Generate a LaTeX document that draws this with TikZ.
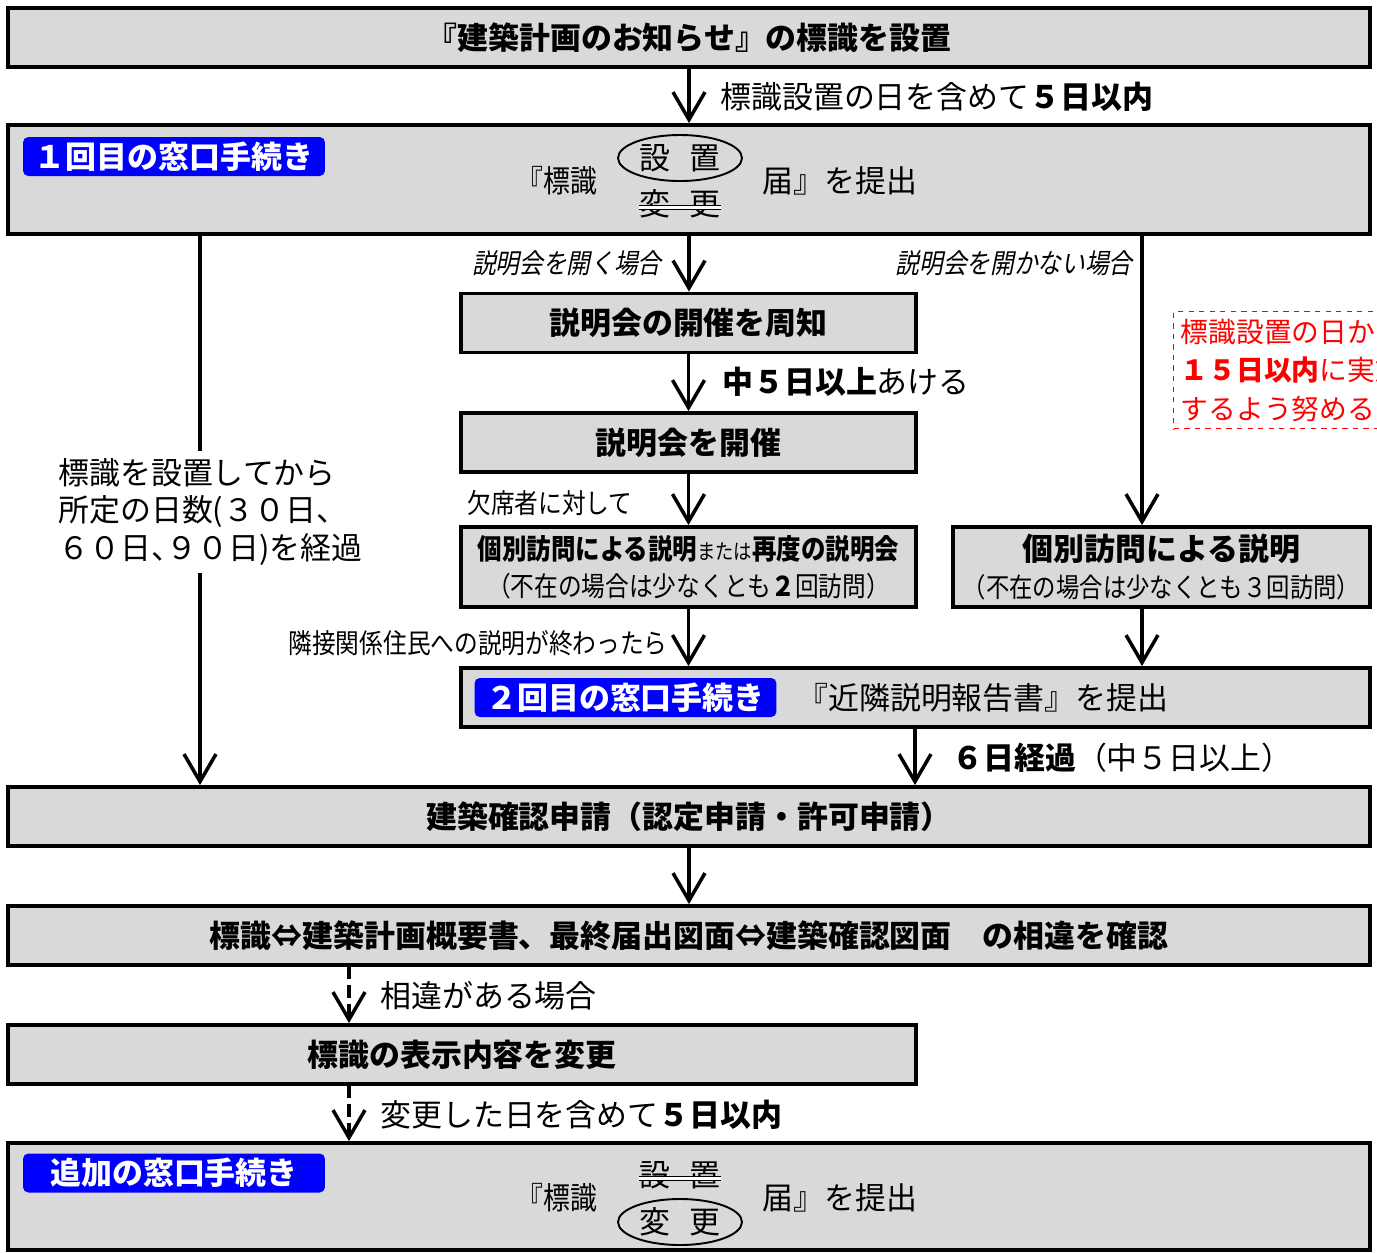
\documentclass[tikz,border=0pt]{standalone}
\usepackage{fontspec}
\setmainfont{Noto Sans CJK JP}
\newfontfamily\jpnarrow[FakeStretch=0.87]{Noto Sans CJK JP}
\newfontfamily\jpslant[FakeSlant=0.2, FakeStretch=0.87]{Noto Sans CJK JP}
\usetikzlibrary{positioning, arrows.meta, shapes.geometric}
\definecolor{boxgray}{RGB}{217,217,217}
\definecolor{tagblue}{RGB}{0,0,255}

\begin{document}
\begin{tikzpicture}[
	x=0.02cm, y=-0.02cm,
	box/.style={rectangle, draw, line width=2.2pt, fill=boxgray, inner sep=0pt, minimum height=1.18cm, font=\fontsize{17.6}{22}\selectfont\bfseries},
	tag/.style={rectangle, fill=tagblue, rounded corners=3pt, text=white, inner sep=0pt, minimum width=6.04cm, minimum height=0.78cm, font=\fontsize{17.6}{20}\selectfont\bfseries},
	oval/.style={ellipse, draw, line width=1.1pt, inner sep=0pt, minimum width=2.48cm, minimum height=0.92cm},
	word/.style={inner sep=0pt, font=\fontsize{17.6}{21}\selectfont},
	note/.style={inner sep=0pt, anchor=west, font=\fontsize{17.6}{21}\selectfont},
	slim/.style={inner sep=0pt, font=\fontsize{15.5}{19}\selectfont\jpnarrow},
	tilt/.style={inner sep=0pt, anchor=east, font=\fontsize{15.5}{19}\selectfont\jpslant},
	strike/.style={double, double distance=2pt, line width=0.6pt},
	flow/.style={->, line width=2pt},
	dflow/.style={flow, dash pattern=on 7pt off 3.5pt},
	>={Straight Barb[length=5.5mm, width=6.4mm]}
]
\useasboundingbox (0,0) rectangle (1377,1252);

% boxes
\node[box, minimum width=27.24cm] (notice) at (689,37.5) {『建築計画のお知らせ』の標識を設置};
\node[box, minimum width=27.24cm, minimum height=2.18cm] (first) at (689,179.5) {};
\node[box, minimum width=9.1cm] (inform) at (688.5,323) {説明会の開催を周知};
\node[box, minimum width=9.1cm] (meeting) at (688.5,442.5) {説明会を開催};
\node[box, minimum width=9.1cm, minimum height=1.6cm, align=center, font=\fontsize{16}{21}\selectfont\jpnarrow\bfseries] (visitA) at (688.5,567) {個別訪問による説明{\mdseries\fontsize{12}{14}\selectfont または}再度の説明会\\{\mdseries\fontsize{15.5}{19}\selectfont （不在の場合は少なくとも\textbf{２}回訪問）}};
\node[box, minimum width=8.34cm, minimum height=1.6cm, align=center, font=\fontsize{17.6}{21}\selectfont\bfseries] (visitB) at (1161.5,567) {個別訪問による説明\\{\jpnarrow\mdseries\fontsize{15.3}{18}\selectfont （不在の場合は少なくとも３回訪問）}};
\node[box, minimum width=18.18cm] (second) at (915.5,697.5) {};
\node[box, minimum width=27.24cm] (apply) at (689,816.5) {建築確認申請（認定申請・許可申請）};
\node[box, minimum width=27.24cm] (check) at (689,935.5) {標識⇔建築計画概要書、最終届出図面⇔建築確認図面　の相違を確認};
\node[box, minimum width=18.16cm] (change) at (462,1054.5) {標識の表示内容を変更};
\node[box, minimum width=27.24cm, minimum height=2.14cm] (extra) at (689,1196.5) {};

% window tags
\node[tag] (tagA) at (174,156.5) {１回目の窓口手続き};
\node[tag] (tagB) at (625.5,697.5) {２回目の窓口手続き};
\node[tag] (tagC) at (174,1173) {追加の窓口手続き};

% first filing
\node[word, font=\fontsize{17.6}{21}\selectfont\jpnarrow] (signA) at (557,181) {『標識};
\node[oval, font=\fontsize{17.6}{21}\selectfont] (setA) at (680,158) {設\hspace{0.6em}置};
\node[word] (altA) at (680,204) {変\hspace{0.6em}更};
\node[word] (reportA) at (840,181) {届』を提出};
\draw[strike] ([yshift=-2pt]altA.west) -- ([yshift=-2pt]altA.east);

% extra filing
\node[word, font=\fontsize{17.6}{21}\selectfont\jpnarrow] (signC) at (557,1198) {『標識};
\node[word] (setC) at (680,1175) {設\hspace{0.6em}置};
\node[oval, font=\fontsize{17.6}{21}\selectfont] (altC) at (680,1222) {変\hspace{0.6em}更};
\node[word] (reportC) at (840,1198) {届』を提出};
\draw[strike] ([yshift=-2pt]setC.west) -- ([yshift=-2pt]setC.east);

\node[note] (nearby) at (797,698) {『近隣説明報告書』を提出};

% labels
\node[note] (within5) at (720,97) {標識設置の日を含めて\textbf{５日以内}};
\node[tilt] (open) at (662,263) {説明会を開く場合};
\node[tilt] (noopen) at (1133,263) {説明会を開かない場合};
\node[note] (gap5) at (722,382) {\textbf{中５日以上}あける};
\node[slim, anchor=west] (absent) at (467,503) {欠席者に対して};
\node[slim, anchor=east] (done) at (668,643) {隣接関係住民への説明が終わったら};
\node[note] (six) at (952,758) {\textbf{６日経過}（中５日以上）};
\node[note] (differ) at (380,996) {相違がある場合};
\node[note] (changed) at (380,1115) {変更した日を含めて\textbf{５日以内}};
\node[note, align=left, inner sep=4pt, font=\fontsize{17.6}{21.3}\selectfont] (lapse) at (51,512) {標識を設置してから\\所定の日数(３０日、\\６０日、\hspace{-0.5em}９０日)を経過};

\begin{scope}
\clip (0,0) rectangle (1377,1252);
\node[draw=red, dashed, line width=0.8pt, anchor=north west, align=left, text=red, inner xsep=4pt, inner ysep=4pt, font=\fontsize{15.8}{22}\selectfont] (effort) at (1173,311) {標識設置の日から\\\textbf{１５日以内}に実施\\するよう努める};
\end{scope}

\coordinate (lx) at (200,0);
\coordinate (rx) at (1142,0);
\coordinate (mx) at (915,0);
\coordinate (dx) at (349,0);

\foreach \i/\j in {notice/first, first/inform, inform/meeting, meeting/visitA, visitA/second, apply/check}
	\draw[flow] (\i.south) -- (\i.south |- \j.north);

\foreach \i/\j in {first/visitB, visitB/second}
	\draw[flow] (\i.south -| rx) -- (\j.north -| rx);

\draw[flow] (second.south -| mx) -- (apply.north -| mx);

\draw[line width=2pt] (first.south -| lx) -- (lapse.north -| lx);
\draw[flow] (lapse.south -| lx) -- (apply.north -| lx);

\foreach \i/\j in {check/change, change/extra}
	\draw[dflow] (\i.south -| dx) -- (\j.north -| dx);

\end{tikzpicture}
\end{document}
